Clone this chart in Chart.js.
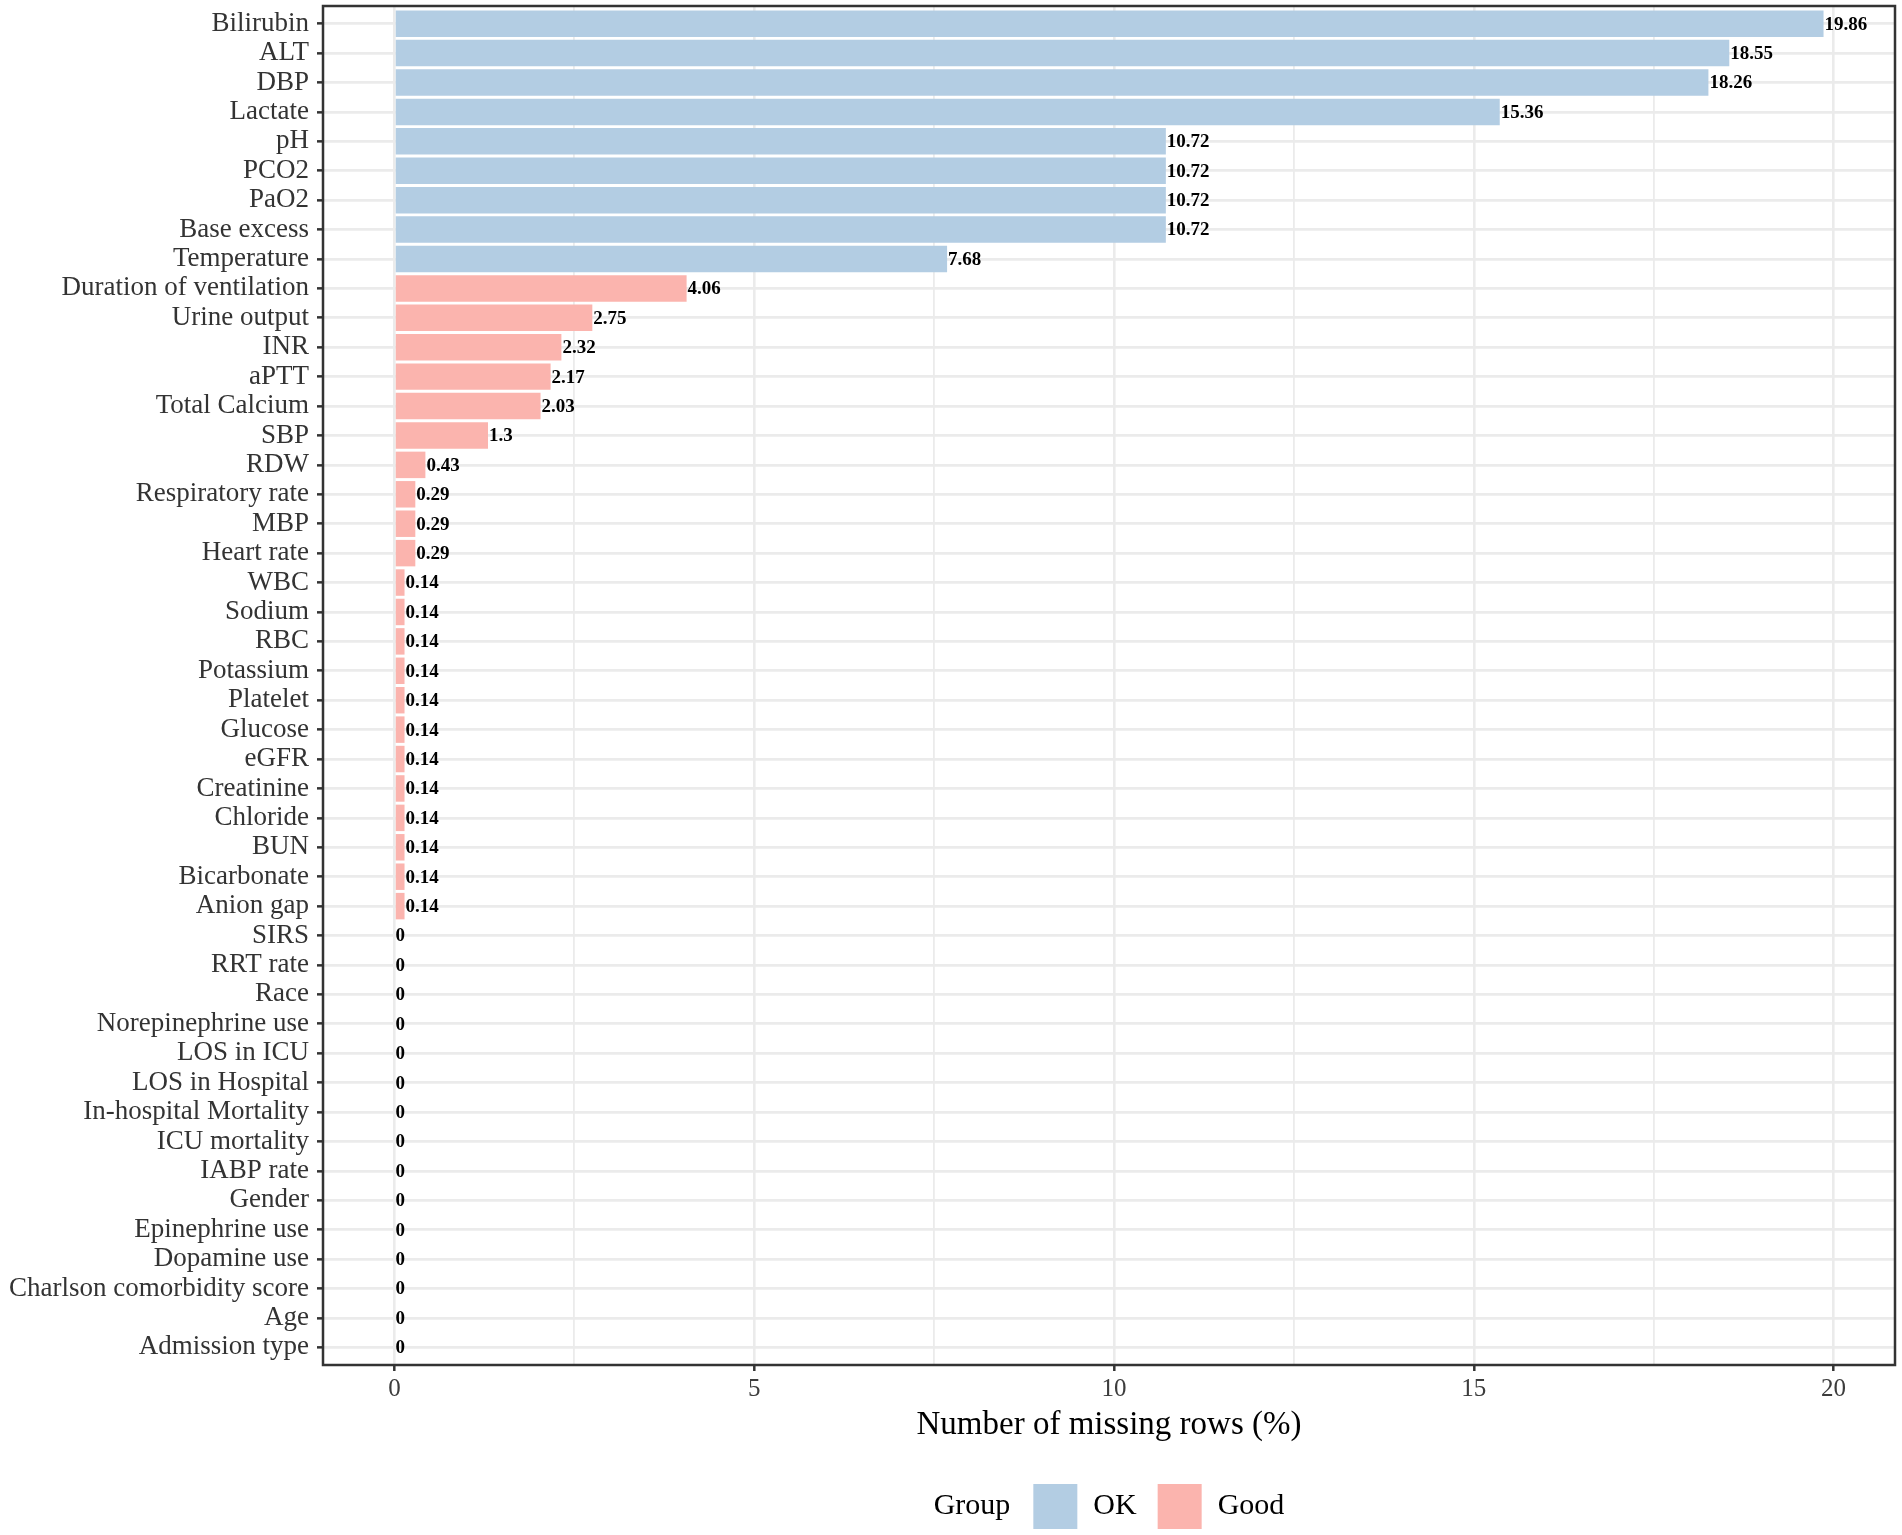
<!DOCTYPE html>
<html><head><meta charset="utf-8">
<script src="https://cdn.jsdelivr.net/npm/chart.js@4.4.1/dist/chart.umd.min.js"></script>
<style>html,body{margin:0;padding:0;background:#fff;}canvas{display:block;}</style>
</head><body>
<canvas id="c" width="1902" height="1535"></canvas>
<script>
const categories = ['Bilirubin','ALT','DBP','Lactate','pH','PCO2','PaO2','Base excess','Temperature',
  'Duration of ventilation','Urine output','INR','aPTT','Total Calcium','SBP','RDW','Respiratory rate','MBP','Heart rate',
  'WBC','Sodium','RBC','Potassium','Platelet','Glucose','eGFR','Creatinine','Chloride','BUN','Bicarbonate','Anion gap',
  'SIRS','RRT rate','Race','Norepinephrine use','LOS in ICU','LOS in Hospital','In-hospital Mortality','ICU mortality',
  'IABP rate','Gender','Epinephrine use','Dopamine use','Charlson comorbidity score','Age','Admission type'];
const okValues = [19.86, 18.55, 18.26, 15.36, 10.72, 10.72, 10.72, 10.72, 7.68];
const goodValues = [4.06, 2.75, 2.32, 2.17, 2.03, 1.3, 0.43, 0.29, 0.29, 0.29,
  0.14, 0.14, 0.14, 0.14, 0.14, 0.14, 0.14, 0.14, 0.14, 0.14, 0.14, 0.14,
  0, 0, 0, 0, 0, 0, 0, 0, 0, 0, 0, 0, 0, 0, 0];
const groupNames = ['OK', 'Good'];
const groupColors = ['#B3CDE3', '#FBB4AE'];
const xGridValues = [0, 2.5, 5, 7.5, 10, 12.5, 15, 17.5, 20];
const xTickLabels = ['0', '5', '10', '15', '20'];
const xTitle = 'Number of missing rows (%)';
const legendTitle = 'Group';

const FONT = '"Liberation Serif", "Times New Roman", serif';
const isMajor = v => xTickLabels.includes(String(v));

const valueLabels = {
  id: 'valueLabels',
  afterDatasetsDraw(chart) {
    const ctx = chart.ctx;
    ctx.save();
    ctx.font = 'bold 19px ' + FONT;
    ctx.fillStyle = '#000';
    ctx.textAlign = 'left';
    ctx.textBaseline = 'middle';
    chart.data.datasets.forEach((ds, di) => {
      const meta = chart.getDatasetMeta(di);
      meta.data.forEach((el, i) => {
        ctx.fillText(String(ds.data[i].x), el.x + 1, el.y + 1);
      });
    });
    ctx.restore();
  }
};

const panelAndLegend = {
  id: 'panelAndLegend',
  afterDraw(chart) {
    const ctx = chart.ctx, a = chart.chartArea;
    ctx.save();
    ctx.strokeStyle = '#333333';
    ctx.lineWidth = 2.5;
    ctx.strokeRect(a.left, a.top, a.right - a.left, a.bottom - a.top);
    // legend
    ctx.font = '30px ' + FONT;
    ctx.textBaseline = 'middle';
    ctx.textAlign = 'left';
    ctx.fillStyle = '#000';
    const keyW = 44, keyH = 45;
    const gTitle = 23, gKey = 16, gItem = 21;
    const items = chart.data.datasets.map(d => ({label: d.label, color: d.backgroundColor}));
    let total = ctx.measureText(legendTitle).width + gTitle;
    items.forEach((it, i) => {
      total += keyW + gKey + ctx.measureText(it.label).width + (i < items.length - 1 ? gItem : 0);
    });
    const cy = chart.height - 28.5;
    let x = (a.left + a.right) / 2 - total / 2;
    ctx.fillText(legendTitle, x, cy);
    x += ctx.measureText(legendTitle).width + gTitle;
    items.forEach((it) => {
      ctx.fillStyle = it.color;
      ctx.fillRect(x, cy - keyH / 2, keyW, keyH);
      x += keyW + gKey;
      ctx.fillStyle = '#000';
      ctx.fillText(it.label, x, cy);
      x += ctx.measureText(it.label).width + gItem;
    });
    ctx.restore();
  }
};

new Chart(document.getElementById('c'), {
  type: 'bar',
  data: {
    datasets: [
      { label: groupNames[0], backgroundColor: groupColors[0],
        data: okValues.map((v, i) => ({x: v, y: i})) },
      { label: groupNames[1], backgroundColor: groupColors[1],
        data: goodValues.map((v, i) => ({x: v, y: i + okValues.length})) }
    ]
  },
  options: {
    responsive: false,
    animation: false,
    devicePixelRatio: 1,
    indexAxis: 'y',
    datasets: { bar: { grouped: false, barPercentage: 0.9, categoryPercentage: 1, borderWidth: 0 } },
    layout: { padding: { top: 6, right: 7, left: 0, bottom: 85 } },
    plugins: { legend: { display: false }, tooltip: { enabled: false } },
    scales: {
      x: {
        type: 'linear', min: -0.993, max: 20.853, offset: false,
        afterBuildTicks: s => { s.ticks = xGridValues.map(v => ({value: v})); },
        ticks: {
          callback: v => isMajor(v) ? String(v) : '',
          font: { family: FONT, size: 25 }, color: '#3d3d3d', padding: 3,
          maxRotation: 0, autoSkip: false
        },
        grid: {
          offset: false,
          color: '#EBEBEB',
          lineWidth: c => (c.tick && isMajor(c.tick.value)) ? 2.6 : 1.8,
          tickColor: c => (c.tick && isMajor(c.tick.value)) ? '#333333' : 'rgba(0,0,0,0)',
          tickLength: 6, tickWidth: 2.5
        },
        border: { display: false },
        title: { display: true, text: xTitle, color: '#000',
          font: { family: FONT, size: 33 }, padding: { top: 0, bottom: 5 } },
        afterFit: s => { s.height = 85; s.paddingLeft = 0; s.paddingRight = 0; }
      },
      y: {
        type: 'linear', reverse: true, min: -0.6, max: 45.6, offset: false,
        afterBuildTicks: s => { s.ticks = categories.map((_, i) => ({value: i})); },
        ticks: {
          callback: v => categories[v],
          font: { family: FONT, size: 27 }, color: '#333333', padding: 8, autoSkip: false
        },
        grid: { offset: false, color: '#EBEBEB', lineWidth: 2.7, tickColor: '#333333', tickLength: 6, tickWidth: 2.5 },
        border: { display: false },
        afterFit: s => { s.width = 323; s.paddingTop = 0; s.paddingBottom = 0; }
      }
    }
  },
  plugins: [valueLabels, panelAndLegend]
});
</script>
</body></html>
